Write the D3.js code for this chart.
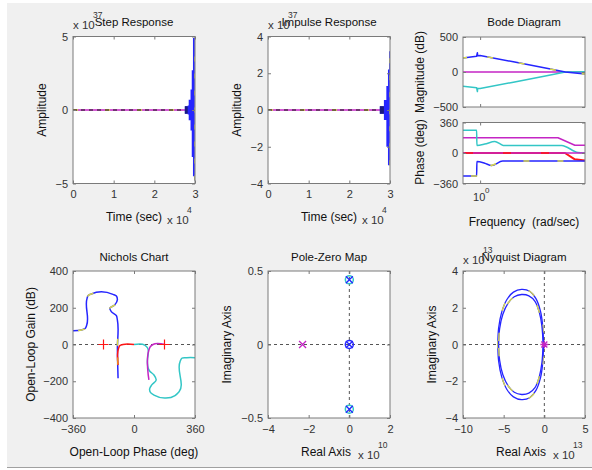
<!DOCTYPE html>
<html>
<head>
<meta charset="utf-8">
<script src="https://cdn.jsdelivr.net/npm/d3@7"></script>
<style>
body { margin: 0; background: #fff; }
svg { display: block; font-family: "Liberation Sans", Arial, sans-serif; }
</style>
</head>
<body>
<svg id="fig" width="592" height="470"></svg>
<script>
// ---------- data ----------
// step response, time in 1e4 s, amplitude in 1e37
var stepTicksX = [0, 1, 2, 3];
var stepTicksY = [-5, 0, 5];
var stepEnvT  = [2.75, 2.82, 2.845, 2.89, 2.92, 2.95, 2.975, 2.995];
var stepEnvHi = [0.25, 0.3, 0.7, 1.4, 2.7, 4.9, 4.9, 4.4];
var stepEnvLo = [-0.25, -0.3, -0.7, -1.4, -3.2, -4.5, -4.8, -4.8];

// impulse response
var impTicksY = [-4, -2, 0, 2, 4];
var impEnvT  = [2.75, 2.85, 2.91, 2.95, 2.975, 2.995];
var impEnvHi = [0.2, 0.55, 1.3, 2.2, 3.2, 3.2];
var impEnvLo = [-0.2, -0.55, -2.0, -3.0, -3.0, -3.0];

// bode magnitude (dB)
var magFreq    = [0.7, 0.93, 0.945, 0.95, 1.0, 2.0, 4.0, 5.9, 8.9];
var magBlue    = [200, 225, 275, 232, 235, 145, 52, 0, -30];
var magCyan    = [-205, -225, -280, -235, -235, -145, -52, 0, 5];
var magMagFreq = [0.7, 8.9];
var magMagenta = [0, 0];
var magTicks   = [-500, 0, 500];

// bode phase (deg)
var phCyanF   = [0.7, 0.93, 0.935, 1.1, 1.36, 1.55, 1.62, 5.47, 7.7, 8.9];
var phCyan    = [270, 270, 90, 105, 135, 100, 90, 90, 5, 0];
var phMag1F   = [0.7, 5.07, 7.2, 8.9];
var phMag1    = [180, 180, 92, 92];
var phMag2F   = [0.7, 8.9];
var phMag2    = [0, 0];
var phRedF    = [0.7, 5.86, 7.2, 8.9];
var phRed     = [0, 0, -75, -90];
var phBlueF   = [0.7, 0.93, 0.935, 1.1, 1.27, 1.6, 8.9];
var phBlue    = [-270, -270, -100, -120, -148, -95, -95];
var phTicks   = [-360, 0, 360];

// nichols (phase deg, gain dB)
var nicBluePh = [-360, -311, -287, -279, -277, -271, -252, -124, -104, -98, -114, -143, -134, -104, -98, -98, -94];
var nicBlueG  = [75, 79, 88, 106, 251, 266, 275, 273, 264, 246, 215, 197, 179, 157, 133, -21, -184];
var nicRedPh  = [-94, -91, -84, -65, 0];
var nicRedG   = [-112, -21, -6, 0, 0];
var nicCyanPh = [0, 63, 79, 79, 84, 92, 118, 131, 105, 92, 98, 118, 242, 266, 272, 282, 311, 365];
var nicCyanG  = [0, -3, -17, -93, -130, -144, -166, -193, -220, -242, -262, -275, -278, -257, -93, -75, -72, -72];
var nicMagPh  = [88, 88, 96, 112, 183];
var nicMagG   = [-193, -30, -12, 0, 0];
var nicCritPh = [-180, 180];
var nicTicksX = [-360, 0, 360];
var nicTicksY = [-400, -200, 0, 200, 400];

// pole-zero map (real in 1e10)
var pzPoleRe  = [0, 0, 0, -2.3];
var pzPoleIm  = [0.44, 0, -0.44, 0];
var pzPoleCol = ["blue", "blue", "blue", "magenta"];
var pzZeroRe  = [0, 0, 0];
var pzZeroIm  = [0.44, 0, -0.44];
var pzZeroCol = ["cyan", "blue", "cyan"];
var pzTicksX  = [-4, -2, 0, 2];
var pzTicksY  = [-0.5, 0, 0.5];

// nyquist (1e13), upper branch, lower branch is its mirror
var nyqOutRe = [-0.1, -0.2, -0.46, -1.03, -1.8, -2.8, -3.8, -4.6, -5.25, -5.62, -5.72];
var nyqOutIm = [0, 1.0, 1.79, 2.5, 2.9, 3.0, 2.85, 2.45, 1.75, 0.9, 0];
var nyqInRe  = [-0.15, -0.3, -0.6, -1.15, -1.9, -2.8, -3.7, -4.45, -5.1, -5.5, -5.62];
var nyqInIm  = [0, 1.0, 1.72, 2.35, 2.65, 2.72, 2.6, 2.25, 1.65, 0.85, 0];
var nyqTicksX = [-10, -5, 0, 5];
var nyqTicksY = [-4, -2, 0, 2, 4];

// ---------- look ----------
var col = {
  blue: "#2525ff", cyan: "#33c6c6", magenta: "#c425c4",
  yellow: "#d9d945", red: "#ff1515", black: "#111"
};
var boxCol = "#7a7a7a";
var txtCol = "#333";
var colL = [73, 268, 463], boxW = 122;
var rowT = [36.5, 271], boxH = 147;

var svg = d3.select("#fig");

// figure background
svg.append("rect").attr("x", 7).attr("y", 3).attr("width", 585).attr("height", 464).attr("fill", "#f0f0f0");
svg.append("line").attr("x1", 7).attr("x2", 592).attr("y1", 467.5).attr("y2", 467.5).attr("stroke", "#a0a0a0");

var clipN = 0;
function makePanel(x0, y0, w, h) {
  var g = svg.append("g").attr("transform", "translate(" + x0 + "," + y0 + ")");
  g.append("rect").attr("width", w).attr("height", h).attr("fill", "#fff");
  var id = "clip" + (clipN++);
  g.append("clipPath").attr("id", id).append("rect").attr("width", w).attr("height", h);
  var plot = g.append("g").attr("clip-path", "url(#" + id + ")");
  return { g: g, plot: plot, w: w, h: h };
}

function styleAxis(a) {
  a.attr("font-size", 11).attr("font-family", null);
  a.select(".domain").remove();
  a.selectAll("line").attr("stroke", boxCol);
  a.selectAll("text").attr("fill", txtCol);
}

function blank() { return ""; }

function drawAxes(p, xs, ys, xt, yt, showX) {
  var b = p.g.append("g").attr("transform", "translate(0," + p.h + ")")
    .call(d3.axisBottom(xs).tickValues(xt).tickSize(-3).tickPadding(7).tickFormat(showX === false ? blank : d3.format("")));
  var t = p.g.append("g")
    .call(d3.axisTop(xs).tickValues(xt).tickSize(-3).tickFormat(blank));
  var l = p.g.append("g")
    .call(d3.axisLeft(ys).tickValues(yt).tickSize(-3).tickPadding(5).tickFormat(d3.format("")));
  var r = p.g.append("g").attr("transform", "translate(" + p.w + ",0)")
    .call(d3.axisRight(ys).tickValues(yt).tickSize(-3).tickFormat(blank));
  [b, t, l, r].forEach(styleAxis);
  p.g.append("rect").attr("width", p.w).attr("height", p.h)
    .attr("fill", "none").attr("stroke", boxCol);
}

function text(x, y, s, size, anchor, rot) {
  var t = svg.append("text").attr("x", x).attr("y", y).text(s)
    .attr("font-size", size).attr("text-anchor", anchor || "middle").attr("fill", "#111")
    .style("white-space", "pre");
  if (rot) t.attr("transform", "rotate(-90," + x + "," + y + ")");
  return t;
}

function expo(x, y, e) {
  text(x, y, "x 10", 11.5, "start").attr("fill", txtCol);
  text(x + 20, y - 11, e, 8.5, "start").attr("fill", txtCol);
}

function pathXY(p, xs, ys, X, Y, color, width, dash, curve) {
  var pts = X.map(function (d, i) { return [d, Y[i]]; });
  var line = d3.line().x(function (d) { return xs(d[0]); }).y(function (d) { return ys(d[1]); })
    .curve(curve || d3.curveLinear);
  var pth = p.plot.append("path").datum(pts).attr("d", line)
    .attr("fill", "none").attr("stroke", color).attr("stroke-width", width || 1.5)
    .attr("stroke-linejoin", "round");
  if (dash) pth.attr("stroke-dasharray", dash);
  return pth;
}

// ---------- step & impulse ----------
function timePanel(ci, yDom, yTicks, envT, envHi, envLo, title) {
  var p = makePanel(colL[ci], rowT[0], boxW, boxH);
  var xs = d3.scaleLinear().domain([0, 3]).range([0, boxW]);
  var ys = d3.scaleLinear().domain(yDom).range([boxH, 0]);
  // zero line made of overlapping channels
  pathXY(p, xs, ys, [0, 3], [0, 0], col.magenta, 1.5);
  pathXY(p, xs, ys, [0, 3], [0, 0], col.yellow, 1.5, "5,27");
  pathXY(p, xs, ys, [0, 3], [0, 0], col.black, 1.2, "4,4");
  var env = envT.map(function (t, i) { return { t: t, hi: envHi[i], lo: envLo[i] }; });
  var area = d3.area().x(function (d) { return xs(d.t); })
    .y0(function (d) { return ys(d.lo); }).y1(function (d) { return ys(d.hi); })
    .curve(d3.curveStepAfter);
  p.plot.append("path").datum(env).attr("d", area).attr("fill", col.blue);
  p.plot.append("path").datum(env.slice(0, 2)).attr("d", area).attr("fill", "#1a1a80");
  var last = env[env.length - 1];
  pathXY(p, xs, ys, [last.t + 0.004, last.t + 0.004], [last.lo, last.hi], col.yellow, 1.3, "5,12");
  drawAxes(p, xs, ys, stepTicksX, yTicks);
  var cx = colL[ci] + boxW / 2;
  text(cx, 26, title, 11.5);
  text(cx, 221, "Time (sec)", 12);
  expo(colL[ci] + 94, 224, "4");
  expo(colL[ci], 29, "37");
  text(colL[ci] - 27, rowT[0] + boxH / 2, "Amplitude", 12, "middle", true);
}
timePanel(0, [-5, 5], stepTicksY, stepEnvT, stepEnvHi, stepEnvLo, "Step Response");
timePanel(1, [-4, 4], impTicksY, impEnvT, impEnvHi, impEnvLo, "Impulse Response");

// ---------- bode ----------
var bx = d3.scaleLog().domain([0.7, 8.9]).range([0, boxW]);
var pm = makePanel(colL[2], 37, boxW, 70);
var ysm = d3.scaleLinear().domain([-500, 500]).range([70, 0]);
pathXY(pm, bx, ysm, magMagFreq, magMagenta, col.magenta);
pathXY(pm, bx, ysm, magFreq, magCyan, col.cyan);
pathXY(pm, bx, ysm, magFreq, magBlue, col.blue);
pathXY(pm, bx, ysm, magFreq, magBlue, col.yellow, 1.5, "6,26").attr("stroke-dashoffset", -30);
drawAxes(pm, bx, ysm, [1], magTicks, false);

var pp = makePanel(colL[2], 122.5, boxW, 61);
var ysp = d3.scaleLinear().domain([-360, 360]).range([61, 0]);
pathXY(pp, bx, ysp, phMag1F, phMag1, col.magenta);
pathXY(pp, bx, ysp, phCyanF, phCyan, col.cyan, 1.5, null, d3.curveMonotoneX);
pathXY(pp, bx, ysp, phRedF, phRed, col.red, 2);
pathXY(pp, bx, ysp, phMag2F, phMag2, col.magenta);
pathXY(pp, bx, ysp, phRedF.slice(0, 2), phRed.slice(0, 2), col.red, 1.5, "8,30").attr("stroke-dashoffset", -40);
pathXY(pp, bx, ysp, phBlueF, phBlue, col.blue, 1.5, null, d3.curveMonotoneX);
pathXY(pp, bx, ysp, phBlueF, phBlue, col.yellow, 1.5, "6,28").attr("stroke-dashoffset", -8);
drawAxes(pp, bx, ysp, [1], phTicks, false);

svg.append("text").attr("x", colL[2] + bx(1) - 7).attr("y", 201)
  .attr("font-size", 11).attr("fill", txtCol).text("10");
svg.append("text").attr("x", colL[2] + bx(1) + 5).attr("y", 193)
  .attr("font-size", 8).attr("fill", txtCol).text("0");
text(colL[2] + boxW / 2, 26, "Bode Diagram", 11.5);
text(colL[2] + boxW / 2, 226, "Frequency  (rad/sec)", 12);
text(colL[2] - 39, 72, "Magnitude (dB)", 12, "middle", true);
text(colL[2] - 39, 152, "Phase (deg)", 12, "middle", true);

// ---------- nichols ----------
var pn = makePanel(colL[0], rowT[1], boxW, boxH);
var nx = d3.scaleLinear().domain([-360, 360]).range([0, boxW]);
var ny = d3.scaleLinear().domain([-400, 400]).range([boxH, 0]);
var smooth = d3.curveCatmullRom.alpha(1);
pathXY(pn, nx, ny, [-360, 360], [0, 0], "#555", 1, "3,3");
pathXY(pn, nx, ny, nicCyanPh, nicCyanG, col.cyan, 1.5, null, smooth);
pathXY(pn, nx, ny, nicMagPh, nicMagG, col.magenta, 1.5, null, smooth);
pathXY(pn, nx, ny, nicBluePh, nicBlueG, col.blue, 1.5, null, smooth);
pathXY(pn, nx, ny, nicBluePh, nicBlueG, col.yellow, 1.5, "7,33", smooth).attr("stroke-dashoffset", -45);
pathXY(pn, nx, ny, nicRedPh, nicRedG, col.red, 1.5, null, smooth);
pathXY(pn, nx, ny, [-96, -96], [-70, -110], "#f08a1a", 1.5);
nicCritPh.forEach(function (ph) {
  var cx = nx(ph), cy = ny(0);
  pn.plot.append("path").attr("d", "M" + (cx - 5) + "," + cy + "H" + (cx + 5) + "M" + cx + "," + (cy - 5) + "V" + (cy + 5))
    .attr("stroke", col.red).attr("stroke-width", 1.2);
});
drawAxes(pn, nx, ny, nicTicksX, nicTicksY);
text(colL[0] + boxW / 2, rowT[1] - 10, "Nichols Chart", 11.5);
text(colL[0] + boxW / 2, 456, "Open-Loop Phase (deg)", 12);
text(colL[0] - 38, rowT[1] + boxH / 2, "Open-Loop Gain (dB)", 12, "middle", true);

// ---------- pole-zero ----------
var pz = makePanel(colL[1], rowT[1], boxW, boxH);
var zx = d3.scaleLinear().domain([-4, 2]).range([0, boxW]);
var zy = d3.scaleLinear().domain([-0.5, 0.5]).range([boxH, 0]);
pathXY(pz, zx, zy, [-4, 2], [0, 0], "#555", 1, "3,3");
pathXY(pz, zx, zy, [0, 0], [-0.5, 0.5], "#555", 1, "3,3");
pzZeroRe.forEach(function (re, i) {
  pz.plot.append("circle").attr("cx", zx(re)).attr("cy", zy(pzZeroIm[i])).attr("r", 4)
    .attr("fill", "none").attr("stroke", col[pzZeroCol[i]]).attr("stroke-width", 1.5);
});
pzPoleRe.forEach(function (re, i) {
  var cx = zx(re), cy = zy(pzPoleIm[i]), s = 3.5;
  pz.plot.append("path")
    .attr("d", "M" + (cx - s) + "," + (cy - s) + "L" + (cx + s) + "," + (cy + s) + "M" + (cx - s) + "," + (cy + s) + "L" + (cx + s) + "," + (cy - s))
    .attr("stroke", col[pzPoleCol[i]]).attr("stroke-width", 1.3);
});
drawAxes(pz, zx, zy, pzTicksX, pzTicksY);
text(colL[1] + boxW / 2, rowT[1] - 10, "Pole-Zero Map", 11.5);
text(colL[1] + boxW / 2 - 3, 456, "Real Axis", 12);
expo(colL[1] + 90, 459, "10");
text(colL[1] - 37, rowT[1] + boxH / 2, "Imaginary Axis", 12, "middle", true);

// ---------- nyquist ----------
var pq = makePanel(colL[2], rowT[1], boxW, boxH);
var qx = d3.scaleLinear().domain([-10, 5]).range([0, boxW]);
var qy = d3.scaleLinear().domain([-4, 4]).range([boxH, 0]);
pathXY(pq, qx, qy, [-10, 5], [0, 0], "#555", 1, "3,3");
pathXY(pq, qx, qy, [0, 0], [-4, 4], "#555", 1, "3,3");
[[nyqOutRe, nyqOutIm], [nyqInRe, nyqInIm]].forEach(function (c, k) {
  var re = c[0], im = c[1];
  var negIm = im.map(function (v) { return -v; });
  pathXY(pq, qx, qy, re, im, col.blue, 1.3, null, d3.curveCatmullRom);
  pathXY(pq, qx, qy, re, negIm, col.blue, 1.3, null, d3.curveCatmullRom);
  pathXY(pq, qx, qy, re, im, col.yellow, 1.3, "8,30", d3.curveCatmullRom).attr("stroke-dashoffset", -12 - k * 20);
  pathXY(pq, qx, qy, re, negIm, col.yellow, 1.3, "8,30", d3.curveCatmullRom).attr("stroke-dashoffset", -12 - k * 20);
});
(function () {
  var cx = qx(0), cy = qy(0), s = 4;
  pq.plot.append("path")
    .attr("d", "M" + (cx - s) + "," + cy + "H" + (cx + s) + "M" + cx + "," + (cy - s) + "V" + (cy + s) +
      "M" + (cx - 3) + "," + (cy - 3) + "L" + (cx + 3) + "," + (cy + 3) + "M" + (cx - 3) + "," + (cy + 3) + "L" + (cx + 3) + "," + (cy - 3))
    .attr("stroke", col.magenta).attr("stroke-width", 1.3);
})();
drawAxes(pq, qx, qy, nyqTicksX, nyqTicksY);
text(colL[2] + boxW / 2, rowT[1] - 10, "Nyquist Diagram", 11.5);
text(colL[2] + boxW / 2 - 3, 456, "Real Axis", 12);
expo(colL[2] + 90, 459, "13");
expo(colL[2], rowT[1] - 7, "13");
text(colL[2] - 27, rowT[1] + boxH / 2, "Imaginary Axis", 12, "middle", true);
</script>
</body>
</html>
